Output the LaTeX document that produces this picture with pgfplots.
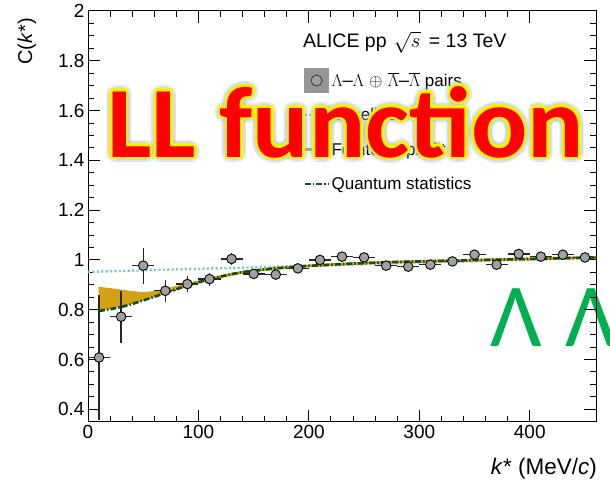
\documentclass[border=0pt]{standalone}
\usepackage{fontspec}
\setmainfont{Liberation Sans}
\newfontfamily\carlito{Carlito}
\usepackage{pgfplots}
\usepackage{pgfplotstable}
\pgfplotsset{compat=1.18}

\definecolor{fitgold}{RGB}{212,160,20}
\definecolor{qsgreen}{RGB}{12,82,22}
\definecolor{basecyan}{RGB}{128,200,200}
\definecolor{markgray}{RGB}{160,160,160}
\definecolor{boxgray}{RGB}{150,150,150}
\definecolor{glowblue}{RGB}{150,180,230}
\definecolor{lamgreen}{RGB}{0,176,80}

% measured correlation function: k* (MeV/c), C(k*), x error, y error
\pgfplotstableread{
k   C     ex  ey
10  0.608 10  0.250
30  0.772 10  0.105
50  0.977 10  0.072
70  0.876 10  0.045
90  0.903 10  0.032
110 0.923 10  0.026
130 1.004 10  0.024
150 0.944 10  0.015
170 0.941 10  0.015
190 0.966 10  0.014
210 1.000 10  0.013
230 1.013 10  0.012
250 1.010 10  0.012
270 0.977 10  0.011
290 0.973 10  0.011
310 0.981 10  0.010
330 0.994 10  0.010
350 1.021 10  0.010
370 0.981 10  0.010
390 1.024 10  0.010
410 1.013 10  0.010
430 1.021 10  0.010
450 1.010 10  0.010
}\datatable

\pgfplotsset{
  linelegend/.style={legend image code/.code={%
      \path[draw=none, fill=none] (0pt,-12pt) rectangle (24pt,12pt);
      \draw[##1] (0pt,0pt) -- (24pt,0pt);}},
  boxlegend/.style={legend image code/.code={%
      \fill[boxgray] (0pt,-12pt) rectangle (24pt,12pt);
      \draw[black!80, fill=markgray, line width=0.8pt] (12pt,0pt) circle (5.5pt);}},
}

\tikzset{
  baselinestyle/.style={basecyan, line width=2.4pt, dash pattern=on 2.2pt off 2.2pt},
  qsstyle/.style={qsgreen, line width=2.6pt, dash pattern=on 6pt off 2pt on 1.5pt off 2pt},
  fitstyle/.style={fitgold, line width=3pt},
  ovl/.style={anchor=base west, inner sep=0pt, font=\carlito\bfseries\fontsize{101}{101}\selectfont},
}
\newcommand{\ovltext}{\scalebox{1.04}[1]{LL function}}

\begin{document}
\begin{tikzpicture}[x=1pt,y=1pt]
\useasboundingbox (0,0) rectangle (610,483);

% big green label behind the axis
\begin{scope}
  \clip (0,0) rectangle (610,483);
  \node[anchor=base west, inner sep=0pt, text=lamgreen,
        font=\carlito\fontsize{90}{90}\selectfont] at (490,137) {Λ\hspace{23.5pt}Λ};
\end{scope}

\begin{axis}[
  at={(88pt,61.3pt)}, anchor=south west,
  scale only axis, width=508pt, height=410.7pt,
  xmin=0, xmax=460, ymin=0.35, ymax=2,
  xtick={0,100,200,300,400}, minor x tick num=4,
  ytick={0.4,0.6,...,2.01}, minor y tick num=3,
  tick align=inside, xtick pos=both, ytick pos=both,
  major tick length=12pt, minor tick length=6pt,
  axis line style={line width=1pt},
  every tick/.style={black, line width=1pt},
  tick label style={font=\fontsize{19}{19}\selectfont},
  /pgf/number format/assume math mode=true,
  xlabel={\textit{k}* (MeV/\textit{c})},
  xlabel style={at={(axis description cs:1.002,-0.128)}, anchor=base east,
                inner sep=0pt, font=\fontsize{22.5}{22.5}\selectfont},
  ylabel={C(\textit{k}*)},
  ylabel style={at={(axis description cs:-0.12,0.983)}, anchor=east,
                inner sep=0pt, font=\fontsize{20}{20}\selectfont},
  legend style={at={(axis description cs:0.423,0.861)}, anchor=north west,
                draw=none, fill=none, inner sep=0pt, row sep=10.5pt,
                font=\fontsize{17}{20}\selectfont,
                nodes={inner xsep=1.5pt, inner ysep=0pt}},
  legend cell align=left,
]
\addlegendimage{boxlegend}
\addlegendentry{{\fontsize{18.5}{18.5}\selectfont$\Lambda$–$\Lambda$ $\oplus$ $\overline{\Lambda}$–$\overline{\Lambda}$} pairs}
\addlegendimage{linelegend, baselinestyle}
\addlegendentry{Baseline}
\addlegendimage{linelegend, fitstyle}
\addlegendentry{Femtoscopic fit}
\addlegendimage{linelegend, qsstyle}
\addlegendentry{Quantum statistics}

% baseline
\addplot[baselinestyle, forget plot] coordinates {(0,0.952) (460,1.008)};

% femtoscopic fit band
\addplot[fill=fitgold, draw=fitgold, line width=0.8pt, forget plot] coordinates {
 (10,0.890) (20,0.885) (30,0.879) (40,0.873) (50,0.869) (60,0.873) (70,0.883)
 (80,0.894) (90,0.905) (100,0.916) (110,0.927) (120,0.937) (130,0.946)
 (140,0.954) (150,0.960) (160,0.965) (170,0.970) (180,0.974) (200,0.980)
 (225,0.986) (250,0.991) (275,0.995) (300,0.998) (350,1.003) (400,1.008)
 (460,1.014)
 (460,1.006) (400,1.000) (350,0.995) (300,0.990) (275,0.987) (250,0.983)
 (225,0.978) (200,0.972) (180,0.966) (170,0.962) (160,0.957) (150,0.952)
 (140,0.946) (130,0.938) (120,0.929) (110,0.919) (100,0.908) (90,0.895)
 (80,0.881) (70,0.867) (60,0.852) (50,0.838) (40,0.825) (30,0.814)
 (20,0.805) (10,0.798)} -- cycle;

% data
\addplot[forget plot, only marks, mark=*, mark size=4.8pt,
  mark options={fill=markgray, draw=black, line width=0.9pt},
  error bars/.cd, x dir=both, x explicit, y dir=both, y explicit,
  error mark=none, error bar style={black!85, line width=1.4pt}]
  table[x=k, y=C, x error=ex, y error=ey] {\datatable};

% quantum statistics
\addplot[qsstyle, forget plot] coordinates {
 (10,0.795) (20,0.802) (30,0.811) (40,0.823) (50,0.837) (60,0.852) (70,0.867)
 (80,0.882) (90,0.897) (100,0.910) (110,0.922) (120,0.933) (130,0.943)
 (140,0.951) (150,0.957) (160,0.962) (170,0.966) (180,0.970) (200,0.976)
 (225,0.982) (250,0.987) (275,0.991) (300,0.994) (350,0.999) (400,1.004)
 (460,1.010)};
\end{axis}

\node[anchor=base west, inner sep=0pt, font=\fontsize{19.5}{19.5}\selectfont]
  at (303,435) {ALICE pp\hspace{7pt}$\sqrt{s}$\hspace{3pt} = 13 TeV};

% title overlay: soft blue glow, yellow outline, red fill
\foreach \a in {0,20,...,340}
  \node[ovl, text=glowblue, opacity=0.12, shift={(\a:6pt)}] at (107,326) {\ovltext};
\foreach \a in {0,15,...,345}
  \node[ovl, text=yellow, shift={(\a:2.7pt)}] at (107,326) {\ovltext};
\foreach \a in {0,30,...,330}
  \node[ovl, text=yellow, shift={(\a:1.3pt)}] at (107,326) {\ovltext};
\node[ovl, text=red] at (107,326) {\ovltext};
\end{tikzpicture}
\end{document}
